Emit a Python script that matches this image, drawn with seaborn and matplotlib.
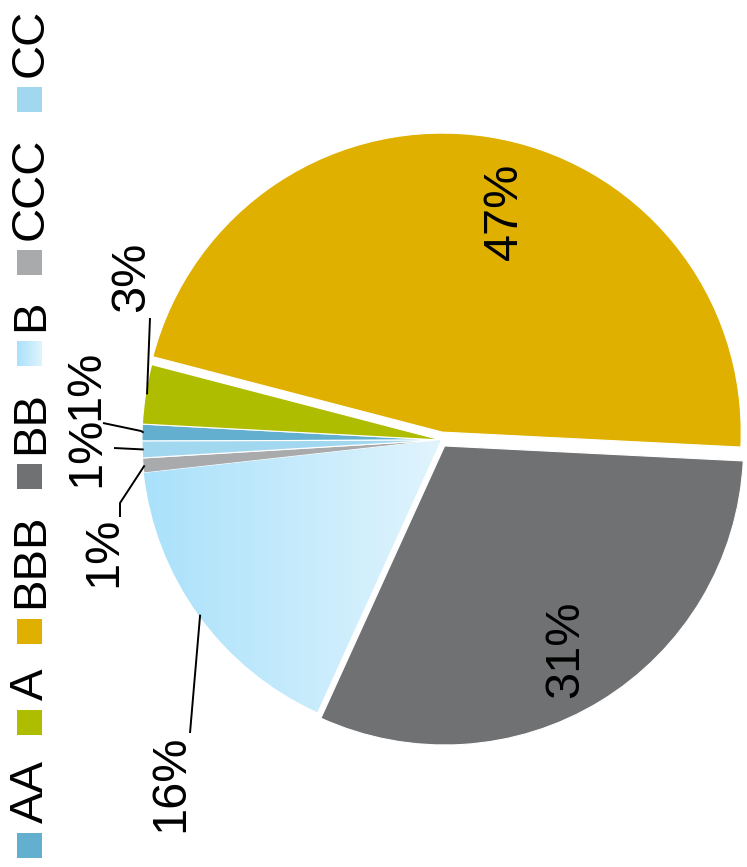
import numpy as np
import matplotlib
matplotlib.use("Agg")
import matplotlib.pyplot as plt
import seaborn as sns
from matplotlib.patches import Rectangle
from matplotlib.colors import LinearSegmentedColormap

sns.set_theme(style="white")
plt.rcParams['font.family'] = ['Liberation Sans', 'DejaVu Sans']

# rating mix (%), clockwise from the AA slice
ratings = ["AA", "A", "BBB", "BB", "B", "CCC", "CC"]
shares = [0.9, 3.2, 46.6, 30.9, 16.4, 0.8, 0.9]
colors = ["#62afd0", "#aebd00", "#e0b000", "#707173", "#c4eafc", "#a9aaac", "#a2d7f0"]
b_gradient = ["#a9e1fb", "#e0f4fd"]

W, H = 747, 867
fig = plt.figure(figsize=(W / 100, H / 100), dpi=100)
ax = fig.add_axes([0, 0, 1, 1])

# pie in pixel-like data units (y measured from bottom)
cx, cy, R = 441, H - 440, 299
explode = [0, 0, 8, 7, 0, 0, 0]
wedges, _ = ax.pie(shares, colors=colors, startangle=180.2, counterclock=False,
                   center=(cx, cy), radius=R, explode=explode,
                   wedgeprops=dict(edgecolor="white", linewidth=0.8))
ax.set_xlim(0, W)
ax.set_ylim(0, H)
ax.set_aspect("equal")
ax.axis("off")

# horizontal gradient fill for the B slice
grad_cmap = LinearSegmentedColormap.from_list("bgrad", b_gradient)
bw = wedges[ratings.index("B")]
img = ax.imshow(np.linspace(0, 1, 256).reshape(1, -1), cmap=grad_cmap, aspect="auto",
                extent=(140, 440, cy - R, cy + R), zorder=bw.get_zorder() + 0.1)
img.set_clip_path(bw)
ax.set_xlim(0, W)
ax.set_ylim(0, H)


def px(x, y):
    return x, H - y


def edge_point(w, r_frac=1.0):
    ang = np.deg2rad((w.theta1 + w.theta2) / 2)
    x0, y0 = w.center
    return x0 + w.r * r_frac * np.cos(ang), y0 + w.r * r_frac * np.sin(ang)


# label layout: text centre (pixels) and leader-line path (pixels), None = inside
label_pos = {
    "AA": ((86, 385), [(141, 431), (103, 423)]),
    "A": ((132, 277), [(150, 318)]),
    "BBB": ((504, 211), None),
    "BB": ((566, 649), None),
    "B": ((171, 783), [(190, 733)]),
    "CCC": ((104, 552), [(120, 503), (120, 517)]),
    "CC": ((87, 452), [(114, 448)]),
}

pct_size = 35
for lab, val, w in zip(ratings, shares, wedges):
    pct = val / sum(shares) * 100
    (tx, ty), path = label_pos[lab]
    ax.text(*px(tx, ty), f"{pct:.0f}%", rotation=90, ha="center", va="center",
            fontsize=pct_size, color="black", zorder=5)
    if path:
        ex, ey = edge_point(w, 0.995)
        xs = [ex] + [p[0] for p in path]
        ys = [ey] + [H - p[1] for p in path]
        ax.plot(xs, ys, color="black", lw=1.4, zorder=4, solid_capstyle="butt")

# legend drawn as a rotated column on the left
renderer = fig.canvas.get_renderer()
sq = 25
y = H - 858
for lab, col in zip(ratings, colors):
    if lab == "B":
        ax.imshow(np.linspace(0, 1, 64).reshape(1, -1), cmap=grad_cmap, aspect="auto",
                  extent=(17, 17 + sq, y, y + sq), zorder=3)
    else:
        ax.add_patch(Rectangle((17, y), sq, sq, color=col, lw=0, zorder=3))
    y += sq + 10
    t = ax.text(31, y, lab, rotation=90, ha="center", va="bottom", fontsize=34, color="black")
    bb = t.get_window_extent(renderer)
    y += bb.height + 25

ax.set_xlim(0, W)
ax.set_ylim(0, H)
fig.savefig("out.png", dpi=100)
